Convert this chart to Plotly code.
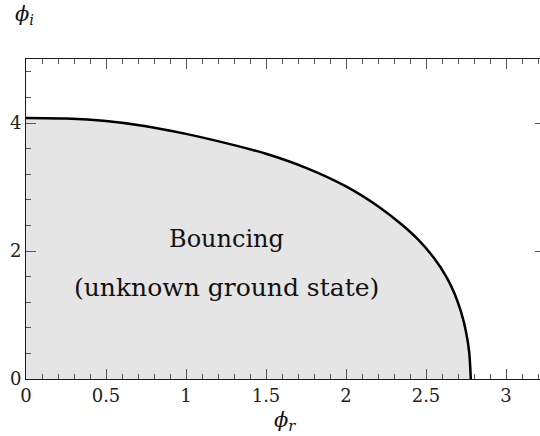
import plotly.graph_objects as go

# Boundary curve
phi_r = [0.0, 0.25, 0.5, 0.75, 1.0, 1.25, 1.5, 1.75, 2.0, 2.2, 2.35, 2.45,
         2.55, 2.63, 2.68, 2.72, 2.75, 2.77, 2.78]
phi_i = [4.08, 4.07, 4.03, 3.95, 3.83, 3.685, 3.52, 3.30, 3.01, 2.70, 2.41, 2.18,
         1.89, 1.585, 1.325, 1.04, 0.74, 0.42, 0.0]

x_ticks = [0, 0.5, 1, 1.5, 2, 2.5, 3]
x_ticktext = ["0", "0.5", "1", "1.5", "2", "2.5", "3"]
y_ticks = [0, 2, 4]
y_ticktext = ["0", "2", "4"]

region_line1 = "Bouncing"
region_line2 = "(unknown ground state)"

SERIF = "DejaVu Serif"
FILL = "rgb(229,229,229)"
LINE = "#1a1a1a"
TICK = "#555555"

fig = go.Figure()
fig.add_trace(go.Scatter(
    x=phi_r, y=phi_i, mode="lines",
    line=dict(color="black", width=2.5, shape="spline", smoothing=0.8),
    fill="tozeroy", fillcolor=FILL, showlegend=False, hoverinfo="skip",
))
fig.add_trace(go.Scatter(x=[None], y=[None], yaxis="y2", showlegend=False))

fig.update_layout(
    width=540, height=436,
    margin=dict(l=26, r=0, t=59, b=57),
    paper_bgcolor="white", plot_bgcolor="white",
    font=dict(family=SERIF, size=18, color="#222"),
    xaxis=dict(
        range=[0, 3.2125], showgrid=False, zeroline=False,
        showline=True, linecolor=LINE, linewidth=1, mirror="ticks",
        ticks="inside", ticklen=10, tickwidth=1, tickcolor=TICK,
        tickvals=x_ticks, ticktext=x_ticktext,
        tickfont=dict(family=SERIF, size=18, color="#222"),
        minor=dict(dtick=0.1, ticks="inside", ticklen=5, tickwidth=1,
                   tickcolor=TICK, showgrid=False),
    ),
    yaxis=dict(
        range=[0, 5], showgrid=False, zeroline=False,
        showline=True, linecolor=LINE, linewidth=1, mirror=False,
        ticks="inside", ticklen=10, tickwidth=1, tickcolor=TICK,
        tickvals=y_ticks, ticktext=y_ticktext,
        tickfont=dict(family=SERIF, size=18, color="#222"),
        minor=dict(dtick=0.4, ticks="inside", ticklen=5, tickwidth=1,
                   tickcolor=TICK, showgrid=False),
    ),
    yaxis2=dict(
        range=[0, 5], overlaying="y", side="right", anchor="x",
        showgrid=False, zeroline=False, showline=False,
        ticks="inside", ticklen=5, tickwidth=1, tickcolor=TICK,
        tickvals=y_ticks, showticklabels=False,
    ),
    annotations=[
        dict(x=1.253, y=2.19, xref="x", yref="y", text=region_line1,
             showarrow=False, xanchor="center", yanchor="middle",
             font=dict(family=SERIF, size=24, color="#111")),
        dict(x=1.253, y=1.43, xref="x", yref="y", text=region_line2,
             showarrow=False, xanchor="center", yanchor="middle",
             font=dict(family=SERIF, size=25, color="#111")),
        dict(x=0.503, y=-0.13, xref="paper", yref="paper",
             text="<i>ϕ</i><sub><i>r</i></sub>", showarrow=False,
             xanchor="center", yanchor="middle",
             font=dict(family=SERIF, size=21, color="#111")),
        dict(x=-0.026, y=1.138, xref="paper", yref="paper",
             text="<i>ϕ</i><sub><i>i</i></sub>", showarrow=False,
             xanchor="left", yanchor="middle",
             font=dict(family=SERIF, size=21, color="#111")),
    ],
)

fig.write_html("out.html", config=dict(displayModeBar=False))
